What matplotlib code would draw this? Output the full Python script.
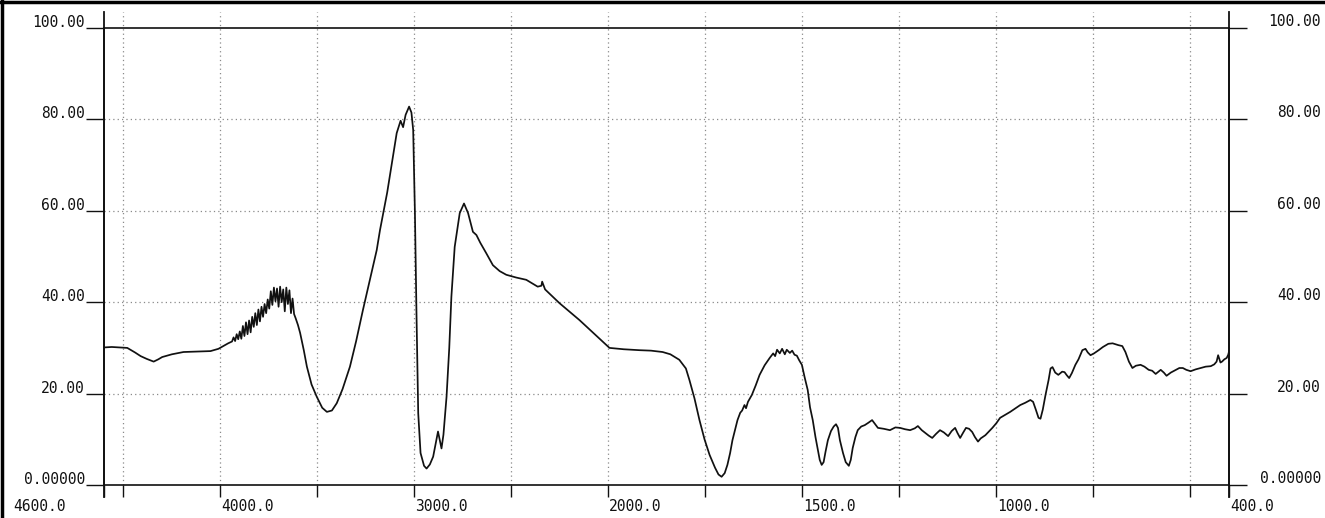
import numpy as np
import matplotlib
matplotlib.use("Agg")
import matplotlib.pyplot as plt
from matplotlib.transforms import ScaledTranslation
from matplotlib.lines import Line2D

# ---------------- data ----------------
wavenumber = [
    4600, 4560, 4480, 4440, 4411, 4380, 4344, 4320, 4300, 4250, 4190, 4120, 4051, 4010, 3985, 3960,
    3940, 3932, 3924, 3916, 3908, 3900, 3892, 3884, 3876, 3868, 3860, 3852, 3844, 3836, 3828, 3820,
    3812, 3804, 3796, 3788, 3780, 3772, 3764, 3756, 3748, 3740, 3732, 3724, 3716, 3708, 3700, 3692,
    3684, 3676, 3668, 3660, 3652, 3644, 3636, 3628, 3620, 3612, 3600, 3589, 3570, 3554, 3530, 3503,
    3475, 3451, 3425, 3400, 3370, 3332, 3300, 3265, 3230, 3194, 3177, 3140, 3091, 3071, 3058, 3045,
    3027, 3015, 3006, 2997, 2989, 2980, 2968, 2950, 2937, 2920, 2903, 2890, 2878, 2868, 2860, 2850,
    2834, 2820, 2809, 2792, 2766, 2744, 2723, 2698, 2680, 2660, 2629, 2595, 2560, 2526, 2475, 2423,
    2364, 2345, 2341, 2333, 2326, 2252, 2149, 1997, 1960, 1920, 1890, 1860, 1840, 1817, 1800, 1791,
    1778, 1765, 1752, 1739, 1725, 1716, 1708, 1700, 1693, 1686, 1680, 1672, 1667, 1660, 1655, 1649,
    1645, 1640, 1630, 1620, 1610, 1597, 1584, 1575, 1570, 1565, 1558, 1552, 1545, 1540, 1532, 1526,
    1520, 1514, 1508, 1501, 1494, 1486, 1480, 1473, 1466, 1460, 1455, 1450, 1445, 1440, 1434, 1426,
    1419, 1413, 1408, 1403, 1395, 1388, 1380, 1375, 1370, 1363, 1357, 1348, 1339, 1330, 1320, 1312,
    1305, 1290, 1274, 1260, 1248, 1235, 1222, 1210, 1202, 1192, 1183, 1174, 1165, 1155, 1145, 1135,
    1124, 1115, 1106, 1100, 1093, 1085, 1078, 1070, 1062, 1055, 1047, 1040, 1028, 1018, 1010, 1000,
    990, 978, 964, 950, 938, 925, 912, 905, 898, 891, 886, 880, 873, 865, 860, 855,
    848, 840, 830, 824, 818, 812, 805, 796, 788, 778, 770, 764, 757, 748, 736, 725,
    711, 700, 685, 675, 667, 658, 649, 640, 628, 618, 607, 598, 589, 582, 576, 568,
    561, 550, 537, 528, 519, 510, 499, 486, 473, 460, 447, 438, 432, 428, 425, 422,
    418, 412, 406, 402, 400,
]
transmittance = [
    30.1, 30.2, 30.0, 29.0, 28.2, 27.6, 27.0, 27.5, 28.0, 28.6, 29.1, 29.2, 29.3, 29.8, 30.4, 31.0,
    31.4, 32.3, 31.5, 33.0, 31.9, 33.6, 32.0, 34.8, 32.6, 35.6, 33.0, 36.0, 33.4, 36.8, 34.6, 37.6,
    35.0, 38.4, 35.8, 39.0, 36.8, 39.6, 37.6, 40.6, 38.6, 42.4, 39.4, 43.2, 40.2, 43.0, 39.0, 43.4,
    40.0, 42.8, 38.0, 43.2, 39.6, 42.6, 37.6, 40.8, 37.4, 36.5, 35.0, 33.3, 29.5, 25.9, 22.0, 19.3,
    16.9, 16.0, 16.3, 17.9, 21.0, 25.9, 31.5, 38.3, 44.8, 51.4, 55.8, 64.0, 77.0, 79.7, 78.3, 81.0,
    82.8, 81.5, 77.7, 59.5, 37.6, 15.7, 7.0, 4.2, 3.6, 4.5, 6.2, 9.0, 11.7, 9.6, 8.0, 11.0,
    19.3, 30.0, 41.2, 52.1, 59.5, 61.6, 59.5, 55.4, 54.7, 53.0, 50.7, 48.1, 46.8, 46.0, 45.4, 44.9,
    43.4, 43.6, 44.5, 43.6, 42.8, 39.8, 36.1, 30.0, 29.7, 29.5, 29.4, 29.1, 28.6, 27.4, 25.5, 23.0,
    19.0, 14.2, 10.0, 6.6, 3.8, 2.3, 1.8, 2.6, 4.4, 7.0, 9.8, 12.5, 14.2, 15.8, 16.3, 17.5,
    16.8, 18.2, 19.7, 21.8, 24.1, 26.2, 27.8, 28.8, 28.2, 29.6, 28.8, 29.8, 28.6, 29.6, 28.9, 29.4,
    28.5, 28.3, 27.3, 26.3, 23.6, 20.8, 17.0, 14.2, 10.5, 7.7, 5.5, 4.4, 5.0, 7.3, 9.8, 11.8,
    12.8, 13.3, 12.5, 9.8, 7.0, 5.0, 4.2, 5.5, 8.1, 10.5, 12.0, 12.8, 13.1, 13.6, 14.2, 13.3,
    12.5, 12.3, 12.0, 12.6, 12.5, 12.2, 12.0, 12.4, 12.9, 12.0, 11.4, 10.8, 10.3, 11.2, 12.0, 11.5,
    10.7, 11.8, 12.5, 11.4, 10.3, 11.5, 12.5, 12.3, 11.6, 10.5, 9.5, 10.2, 10.9, 11.8, 12.5, 13.5,
    14.7, 15.3, 16.0, 16.8, 17.5, 18.0, 18.6, 18.2, 16.5, 14.7, 14.5, 16.5, 19.7, 23.0, 25.5, 25.8,
    24.6, 24.1, 24.8, 24.7, 24.0, 23.4, 24.5, 26.3, 27.5, 29.5, 29.8, 29.0, 28.4, 28.8, 29.5, 30.2,
    30.9, 31.0, 30.6, 30.4, 29.1, 27.0, 25.6, 26.1, 26.3, 25.9, 25.2, 25.0, 24.3, 24.8, 25.2, 24.6,
    23.9, 24.6, 25.2, 25.6, 25.6, 25.2, 24.9, 25.3, 25.6, 25.9, 26.0, 26.4, 27.0, 28.4, 27.6, 26.8,
    27.0, 27.5, 27.8, 28.5, 29.2,
]

x_major = [4600, 4000, 3000, 2000, 1500, 1000, 400]
x_major_labels = ["4600.0", "4000.0", "3000.0", "2000.0", "1500.0", "1000.0", "400.0"]
x_minor = [4500, 3500, 2500, 1750, 1250, 750, 500]
y_ticks = [0, 20, 40, 60, 80, 100]
y_labels = ["0.00000", "20.00", "40.00", "60.00", "80.00", "100.00"]

# ---------------- figure ----------------
W, H, DPI = 1325, 518, 100
fig = plt.figure(figsize=(W / DPI, H / DPI), dpi=DPI)
fig.patch.set_facecolor("white")
ax = fig.add_axes([104 / W, 33 / H, 1125 / W, 457 / H])

def fwd(x):
    x = np.asarray(x, dtype=float)
    return np.where(x >= 2000, x, 2 * x - 2000)

def inv(u):
    u = np.asarray(u, dtype=float)
    return np.where(u >= 2000, u, (u + 2000) / 2)

ax.set_xscale("function", functions=(fwd, inv))
ax.set_xlim(4600, 400)
ax.set_ylim(0, 100)

INK = "#111111"
GRID = "#8a8a8a"
FONT = "DejaVu Sans Mono"
FS = 10.5

for s in ax.spines.values():
    s.set_color(INK)
    s.set_linewidth(1.2)

# grid lines
for gx in [4500, 4000, 3500, 3000, 2500, 2000, 1750, 1500, 1250, 1000, 750, 500]:
    ax.plot([gx, gx], [0, 103.5], color=GRID, lw=0.9, ls=(0, (1, 2.5)), clip_on=False, zorder=1)
for gy in [20, 40, 60, 80]:
    ax.axhline(gy, color=GRID, lw=0.9, ls=(0, (1, 2.5)), zorder=1)

# extended side axis lines
for xa in (0, 1):
    ax.add_line(Line2D([xa, xa], [-0.026, 1.035], transform=ax.transAxes, color=INK,
                       lw=1.3, clip_on=False, zorder=3))

# x ticks
ax.set_xticks(x_major)
ax.set_xticks(x_minor, minor=True)
ax.xaxis.set_major_formatter(plt.NullFormatter())
ax.xaxis.set_minor_formatter(plt.NullFormatter())
ax.tick_params(axis="x", which="both", direction="out", length=12 * 0.72, width=1.0,
               color=INK, top=False, bottom=True)

# y ticks (both sides)
ax.set_yticks(y_ticks)
ax.yaxis.set_major_formatter(plt.NullFormatter())
ax.tick_params(axis="y", which="major", direction="out", length=18 * 0.72, width=1.0,
               color=INK, left=True, right=True)
ax.yaxis.set_minor_locator(plt.NullLocator())

def off(dx, dy):
    return ScaledTranslation(dx / DPI, dy / DPI, fig.dpi_scale_trans)

for v, lab in zip(y_ticks, y_labels):
    ax.text(0, v, lab, transform=ax.get_yaxis_transform() + off(-19, 1), ha="right",
            va="baseline", fontsize=FS, family=FONT, color=INK)
    ax.text(1, v, lab, transform=ax.get_yaxis_transform() + off(92, 2), ha="right",
            va="baseline", fontsize=FS, family=FONT, color=INK)

for v, lab in zip(x_major, x_major_labels):
    if v == 4600:
        tr = ax.get_xaxis_transform() + off(-38, -14)
        ha = "right"
    else:
        tr = ax.get_xaxis_transform() + off(1, -14)
        ha = "left"
    ax.text(v, 0, lab, transform=tr, ha=ha, va="top", fontsize=FS, family=FONT, color=INK)

# spectrum
ax.plot(wavenumber, transmittance, color=INK, lw=1.25, zorder=4, solid_joinstyle="round")

# scan border (top and left edges)
fig.add_artist(Line2D([0, 1], [1 - 1.5 / H, 1 - 1.5 / H], transform=fig.transFigure, color="black", lw=2.5))
fig.add_artist(Line2D([1.5 / W, 1.5 / W], [0, 1], transform=fig.transFigure, color="black", lw=2.5))

fig.savefig("out.png", dpi=DPI, facecolor="white")
